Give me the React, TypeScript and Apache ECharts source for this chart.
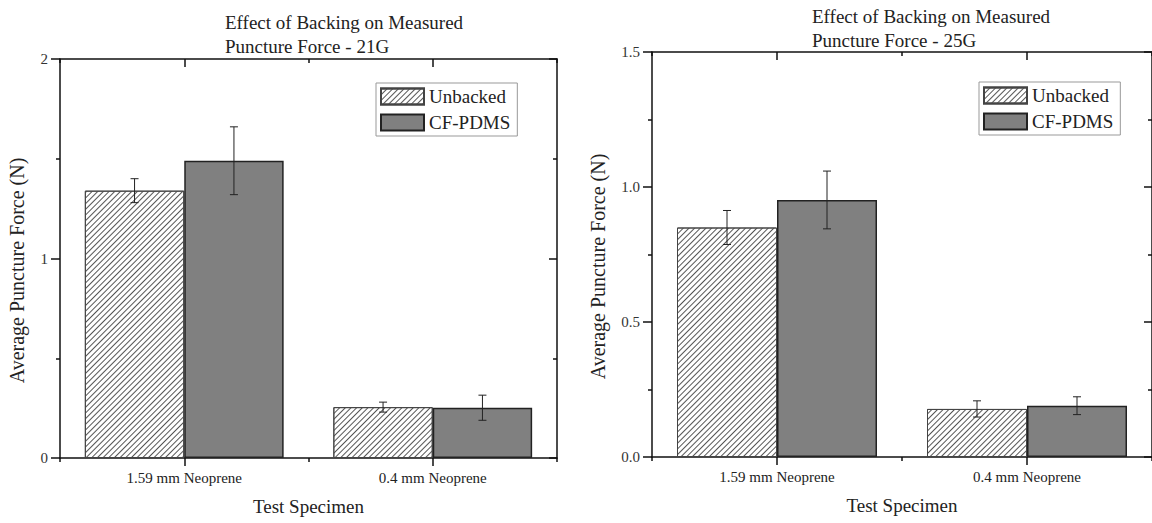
import React, { useEffect, useRef } from 'react';
import * as echarts from 'echarts';

const categories = ['1.59 mm Neoprene', '0.4 mm Neoprene'];
const seriesNames = ['Unbacked', 'CF-PDMS'];

const unbacked21 = [1.34, 0.255];
const unbacked21Err = [0.06, 0.025];
const cfpdms21 = [1.49, 0.252];
const cfpdms21Err = [0.17, 0.063];

const unbacked25 = [0.85, 0.178];
const unbacked25Err = [0.063, 0.03];
const cfpdms25 = [0.952, 0.19];
const cfpdms25Err = [0.107, 0.033];

const yLabels21 = ['0', '1', '2'];
const yLabels25 = ['0.0', '0.5', '1.0', '1.5'];

const titles = [
  'Effect of Backing on Measured\nPuncture Force - 21G',
  'Effect of Backing on Measured\nPuncture Force - 25G',
];
const yAxisTitle = 'Average Puncture Force (N)';
const xAxisTitle = 'Test Specimen';

const FONT = "'Liberation Serif', 'Times New Roman', Times, serif";
const TXT = '#222';
const AXIS = '#111';

const hatchDecal = {
  symbol: 'rect',
  symbolSize: 1,
  dashArrayX: [1, 0],
  dashArrayY: [1, 2.6],
  rotation: -Math.PI / 4,
  color: '#555',
  backgroundColor: '#fff',
};

const panels = [
  {
    grid: { left: 60, top: 59, width: 497, height: 399 },
    yMax: 2, yInterval: 1, yLabels: yLabels21,
    unb: unbacked21, unbErr: unbacked21Err, cf: cfpdms21, cfErr: cfpdms21Err,
    title: titles[0], titleLeft: 220, titleTop: 5,
    legendLeft: 376, legendTop: 83, yNameGap: 33,
  },
  {
    grid: { left: 652, top: 52, width: 506, height: 405 },
    yMax: 1.5, yInterval: 0.5, yLabels: yLabels25,
    unb: unbacked25, unbErr: unbacked25Err, cf: cfpdms25, cfErr: cfpdms25Err,
    title: titles[1], titleLeft: 807, titleTop: -1,
    legendLeft: 979, legendTop: 82, yNameGap: 44,
  },
];

function errRender(sign: number) {
  return (params: any, api: any) => {
    const cat = api.value(0);
    const v = api.value(1);
    const e = api.value(2);
    const band = api.size([1, 0])[0];
    const x = api.coord([cat, v])[0] + sign * band * 0.2;
    const yT = api.coord([cat, v + e])[1];
    const yB = api.coord([cat, v - e])[1];
    const style = { stroke: '#222', lineWidth: 1 };
    return {
      type: 'group',
      children: [
        { type: 'line', shape: { x1: x, y1: yT, x2: x, y2: yB }, style },
        { type: 'line', shape: { x1: x - 4, y1: yT, x2: x + 4, y2: yT }, style },
        { type: 'line', shape: { x1: x - 4, y1: yB, x2: x + 4, y2: yB }, style },
      ],
    };
  };
}

function buildOption() {
  const grid: any[] = [];
  const xAxis: any[] = [];
  const yAxis: any[] = [];
  const series: any[] = [];
  const title: any[] = [];
  const legend: any[] = [];

  panels.forEach((p, i) => {
    grid.push({ ...p.grid, containLabel: false });
    const lineStyle = { color: AXIS, width: 1.5 };
    xAxis.push({
      type: 'category', gridIndex: i, data: categories, position: 'bottom',
      axisLine: { show: true, lineStyle },
      axisTick: { show: true, alignWithLabel: true, length: 8, lineStyle },
      axisLabel: { fontFamily: FONT, fontSize: 15, color: TXT, margin: 12 },
      name: xAxisTitle, nameLocation: 'middle', nameGap: 39,
      nameTextStyle: { fontFamily: FONT, fontSize: 19, color: TXT },
      splitLine: { show: false },
    });
    xAxis.push({
      type: 'category', gridIndex: i, data: categories, position: 'bottom',
      axisLine: { show: false },
      axisTick: { show: true, length: 4, lineStyle },
      axisLabel: { show: false },
      splitLine: { show: false },
    });
    xAxis.push({
      type: 'category', gridIndex: i, data: categories, position: 'top',
      axisLine: { show: true, lineStyle },
      axisTick: { show: true, inside: true, alignWithLabel: true, length: 8, lineStyle },
      axisLabel: { show: false },
      splitLine: { show: false },
    });
    xAxis.push({
      type: 'category', gridIndex: i, data: categories, position: 'top',
      axisLine: { show: false },
      axisTick: { show: true, inside: true, length: 4, lineStyle },
      axisLabel: { show: false },
      splitLine: { show: false },
    });
    const labels = p.yLabels;
    const interval = p.yInterval;
    yAxis.push({
      type: 'value', gridIndex: i, position: 'left', min: 0, max: p.yMax, interval,
      axisLine: { show: true, lineStyle },
      axisTick: { show: true, length: 9, lineStyle },
      minorTick: { show: true, splitNumber: 2, length: 4, lineStyle },
      splitLine: { show: false },
      axisLabel: {
        fontFamily: FONT, fontSize: 15, color: '#333', margin: 12,
        formatter: (v: number) => labels[Math.round(v / interval)],
      },
      name: yAxisTitle, nameLocation: 'middle', nameGap: p.yNameGap,
      nameTextStyle: { fontFamily: FONT, fontSize: 20, color: TXT, padding: [0, 24, 0, 0] },
    });
    yAxis.push({
      type: 'value', gridIndex: i, position: 'right', min: 0, max: p.yMax, interval,
      axisLine: { show: true, lineStyle },
      axisTick: { show: true, inside: true, length: 8, lineStyle },
      minorTick: { show: true, splitNumber: 2, length: 4, lineStyle },
      splitLine: { show: false },
      axisLabel: { show: false },
    });

    title.push({
      text: p.title, left: p.titleLeft, top: p.titleTop,
      textStyle: { fontFamily: FONT, fontSize: 19, fontWeight: 'normal', color: TXT, lineHeight: 24 },
    });

    legend.push({
      data: seriesNames, orient: 'vertical', left: p.legendLeft, top: p.legendTop,
      padding: [4, 7, 4, 4], itemGap: 7, itemWidth: 43, itemHeight: 16,
      borderColor: '#999', borderWidth: 1, icon: 'rect',
      textStyle: { fontFamily: FONT, fontSize: 19, color: TXT, padding: [0, 0, 0, 0] },
      selectedMode: false,
    });

    const xIdx = i * 4;
    const yIdx = i * 2;
    series.push({
      type: 'bar', name: seriesNames[0], xAxisIndex: xIdx, yAxisIndex: yIdx,
      data: p.unb, barGap: '0%', barCategoryGap: '20%',
      itemStyle: { color: '#fff', borderColor: '#444', borderWidth: 1, decal: hatchDecal },
    });
    series.push({
      type: 'bar', name: seriesNames[1], xAxisIndex: xIdx, yAxisIndex: yIdx,
      data: p.cf, barGap: '0%', barCategoryGap: '20%',
      itemStyle: { color: '#808080', borderColor: '#222', borderWidth: 1.5 },
    });
    series.push({
      type: 'custom', name: 'err-u-' + i, xAxisIndex: xIdx, yAxisIndex: yIdx,
      data: p.unb.map((v, k) => [k, v, p.unbErr[k]]),
      encode: { x: 0, y: 1 }, renderItem: errRender(-1), z: 10,
    });
    series.push({
      type: 'custom', name: 'err-c-' + i, xAxisIndex: xIdx, yAxisIndex: yIdx,
      data: p.cf.map((v, k) => [k, v, p.cfErr[k]]),
      encode: { x: 0, y: 1 }, renderItem: errRender(1), z: 10,
    });
  });

  return {
    animation: false,
    backgroundColor: '#fff',
    textStyle: { fontFamily: FONT },
    title, legend, grid, xAxis, yAxis, series,
  };
}

export default function App() {
  const ref = useRef<HTMLDivElement>(null);
  useEffect(() => {
    if (!ref.current) return;
    const chart = echarts.init(ref.current, undefined, { renderer: 'svg' });
    chart.setOption(buildOption() as any);
    return () => chart.dispose();
  }, []);
  return (
    <div
      ref={ref}
      style={{ position: 'fixed', left: 0, top: 0, width: 1152, height: 523, background: '#fff' }}
    />
  );
}
